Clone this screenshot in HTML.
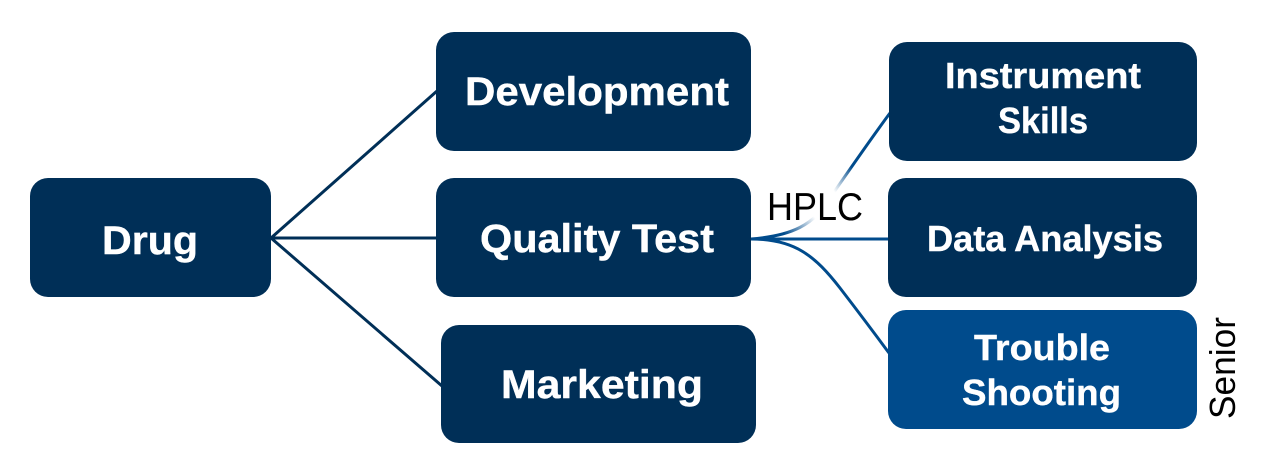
<!DOCTYPE html>
<html><head><meta charset="utf-8"><style>
html,body{margin:0;padding:0;background:#fff;width:1271px;height:472px;overflow:hidden}
svg{display:block}
text{font-family:"Liberation Sans",sans-serif}
.b{font-weight:bold;fill:#fff;stroke:#fff;stroke-width:.4}
.l{font-size:40px}
.s{font-size:36px}
.r{fill:#000}
</style></head><body>
<svg width="1271" height="472" viewBox="0 0 1271 472" xmlns="http://www.w3.org/2000/svg">
<defs>
<linearGradient id="f" gradientUnits="userSpaceOnUse" x1="751" y1="239" x2="889" y2="113">
<stop offset="0" stop-color="#004b8c"/>
<stop offset=".15" stop-color="#004b8c"/>
<stop offset=".33" stop-color="#fff"/>
<stop offset=".5" stop-color="#fff"/>
<stop offset=".66" stop-color="#004b8c"/>
<stop offset="1" stop-color="#004b8c"/>
</linearGradient>
</defs>
<g stroke="#002f57" stroke-width="3" fill="none">
<path d="M271 238L437 91"/>
<path d="M271 238H437"/>
<path d="M271 238L442 386"/>
</g>
<g fill="none" stroke-width="3">
<path d="M751 239C790 236 815 226 832 195C848 172 870 140 890 113" stroke="url(#f)"/>
<path d="M751 239H889" stroke="#004b8c"/>
<path d="M751 239C795 239 815 256 840 288C860 314 875 334 889 353" stroke="#004b8c"/>
</g>
<g fill="#002f57">
<rect x="30" y="178" width="241" height="119" rx="18"/>
<rect x="436" y="32" width="315" height="119" rx="18"/>
<rect x="436" y="178" width="315" height="119" rx="18"/>
<rect x="441" y="325" width="315" height="118" rx="18"/>
<rect x="889" y="42" width="308" height="119" rx="18"/>
<rect x="888" y="178" width="309" height="119" rx="18"/>
</g>
<rect x="888" y="310" width="309" height="119" rx="18" fill="#004b8c"/>
<text class="b l" x="102" y="254" textLength="96" lengthAdjust="spacingAndGlyphs">Drug</text>
<text class="b l" x="465" y="105" textLength="264" lengthAdjust="spacingAndGlyphs">Development</text>
<text class="b l" x="480" y="252" textLength="234" lengthAdjust="spacingAndGlyphs">Quality Test</text>
<text class="b l" x="501" y="398" textLength="202" lengthAdjust="spacingAndGlyphs">Marketing</text>
<text class="b s" x="945" y="88" textLength="196" lengthAdjust="spacingAndGlyphs">Instrument</text>
<text class="b s" x="998" y="133" textLength="90" lengthAdjust="spacingAndGlyphs">Skills</text>
<text class="b s" x="927" y="251" textLength="236" lengthAdjust="spacingAndGlyphs">Data Analysis</text>
<text class="b s" x="974" y="360" textLength="136" lengthAdjust="spacingAndGlyphs">Trouble</text>
<text class="b s" x="962" y="405" textLength="159" lengthAdjust="spacingAndGlyphs">Shooting</text>
<text class="r" x="767" y="220" font-size="39" textLength="96" lengthAdjust="spacingAndGlyphs">HPLC</text>
<text class="r" transform="translate(1235 419) rotate(-90)" font-size="36" textLength="102" lengthAdjust="spacingAndGlyphs">Senior</text>
</svg>
</body></html>
